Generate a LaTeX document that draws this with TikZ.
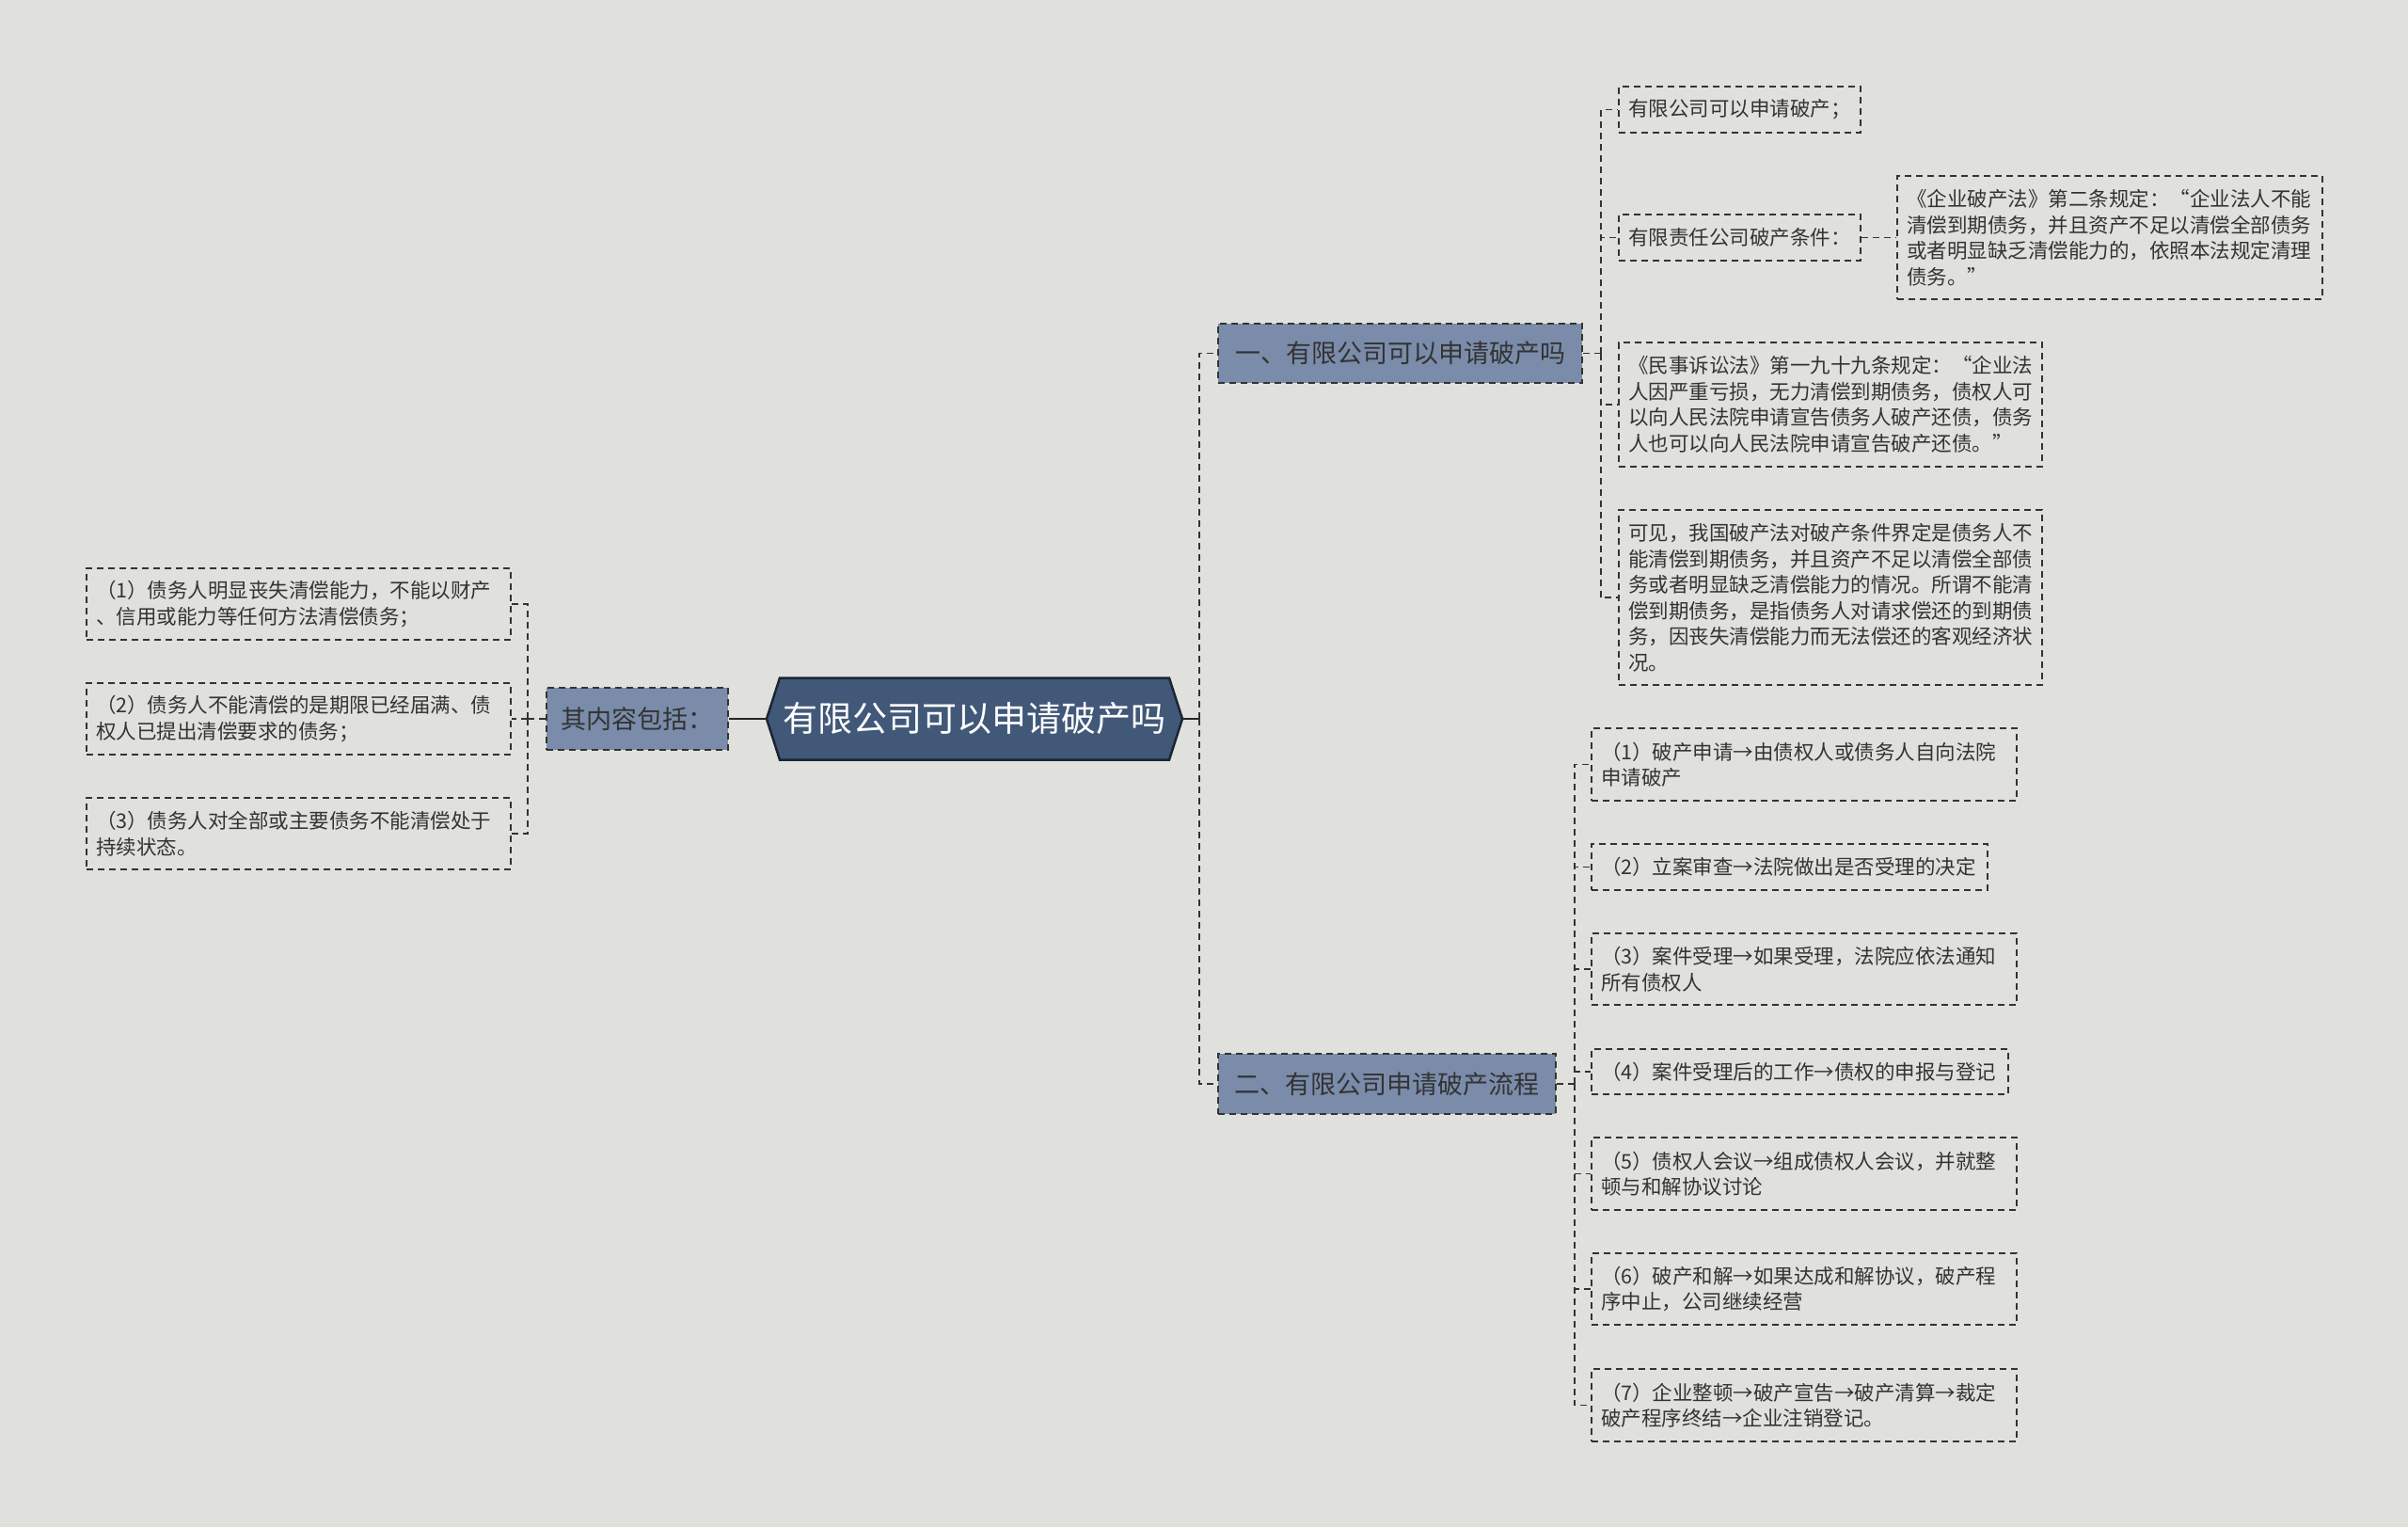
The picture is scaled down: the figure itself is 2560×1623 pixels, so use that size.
\documentclass[tikz,border=0pt]{standalone}
\usepackage{fontspec}
\newfontfamily\cjk{Noto Sans CJK SC}
\definecolor{bgc}{HTML}{E0E1DC}
\definecolor{branchfill}{HTML}{7A8CAA}
\definecolor{rootfill}{HTML}{415878}
\definecolor{rootline}{HTML}{1C2535}
\definecolor{inkc}{HTML}{333333}
\begin{document}
\begin{tikzpicture}[x=1pt,y=-1pt,
  dashline/.style={line width=1.8pt, dash pattern=on 7pt off 5pt},
  conn/.style={draw=inkc, dashline},
  solidline/.style={draw=black!85, line width=2pt},
  leaf/.style={draw=inkc, dashline, text=inkc, font=\cjk\fontsize{21.5pt}{27.5pt}\selectfont, align=left, inner xsep=10pt, inner ysep=0pt, anchor=center},
  branch/.style={draw=inkc, fill=branchfill, dashline, text=inkc, font=\cjk\fontsize{27pt}{32pt}\selectfont, inner sep=0pt, anchor=center},
  roottext/.style={text=white, font=\cjk\fontsize{37pt}{44pt}\selectfont, inner sep=0pt, anchor=center}
]
\useasboundingbox (0,0) rectangle (2560,1623);
\fill[bgc] (0,0) rectangle (2560,1623);

% root hexagon
\filldraw[fill=rootfill, draw=rootline, line width=2.5pt, line join=miter]
  (815,764) -- (829,720.5) -- (1243,720.5) -- (1257,764) -- (1243,807.5) -- (829,807.5) -- cycle;
\node[roottext, minimum width=442pt, minimum height=87pt] (root) at (1036,764) {有限公司可以申请破产吗};

% left side
\node[branch, minimum width=193pt, minimum height=66pt] (lbox) at (677.5,764) {其内容包括：};
\node[leaf, text width=431pt, minimum height=76pt] (L1) at (317.5,642) {（1）债务人明显丧失清偿能力，不能以财产\\、信用或能力等任何方法清偿债务；};
\node[leaf, text width=431pt, minimum height=76pt] (L2) at (317.5,764) {（2）债务人不能清偿的是期限已经届满、债\\权人已提出清偿要求的债务；};
\node[leaf, text width=431pt, minimum height=76pt] (L3) at (317.5,886) {（3）债务人对全部或主要债务不能清偿处于\\持续状态。};

\draw[solidline] (root.west) -- (lbox.east);
\draw[conn] (lbox.west) -- ++(-19,0) coordinate (lbus);
\draw[conn] (lbus) |- (L1.east);
\draw[conn] (lbus) |- (L2.east);
\draw[conn] (lbus) |- (L3.east);

% right branches
\node[branch, minimum width=387pt, minimum height=63pt] (b1) at (1488.5,375.5) {一、有限公司可以申请破产吗};
\node[branch, minimum width=359pt, minimum height=64pt] (b2) at (1474.5,1152) {二、有限公司申请破产流程};

\draw[solidline] (root.east) -- ++(18,0) coordinate (rbus);
\draw[conn] (rbus) |- (b1.west);
\draw[conn] (rbus) |- (b2.west);

% branch 1 leaves
\node[leaf, text width=237pt, minimum height=49pt] (A) at (1849.5,116.5) {有限公司可以申请破产；};
\node[leaf, text width=237pt, minimum height=49pt] (B) at (1849.5,252.5) {有限责任公司破产条件：};
\node[leaf, text width=432pt, minimum height=131pt] (C) at (2243,252.5) {《企业破产法》第二条规定：“企业法人不能\\清偿到期债务，并且资产不足以清偿全部债务\\或者明显缺乏清偿能力的，依照本法规定清理\\债务。”};
\node[leaf, text width=430pt, minimum height=132pt] (D) at (1946,430) {《民事诉讼法》第一九十九条规定：“企业法\\人因严重亏损，无力清偿到期债务，债权人可\\以向人民法院申请宣告债务人破产还债，债务\\人也可以向人民法院申请宣告破产还债。”};
\node[leaf, text width=430pt, minimum height=186pt] (E) at (1946,635) {可见，我国破产法对破产条件界定是债务人不\\能清偿到期债务，并且资产不足以清偿全部债\\务或者明显缺乏清偿能力的情况。所谓不能清\\偿到期债务，是指债务人对请求偿还的到期债\\务，因丧失清偿能力而无法偿还的客观经济状\\况。};

\draw[conn] (b1.east) -- ++(19,0) coordinate (bus1);
\draw[conn] (bus1) |- (A.west);
\draw[conn] (bus1) |- (B.west);
\draw[conn] (bus1) |- (D.west);
\draw[conn] (bus1) |- (E.west);
\draw[conn] (B.east) -- (C.west);

% branch 2 leaves
\node[leaf, text width=432pt, minimum height=77pt] (P1) at (1918,812.5) {（1）破产申请→由债权人或债务人自向法院\\申请破产};
\node[leaf, text width=401pt, minimum height=49pt] (P2) at (1902.5,921.5) {（2）立案审查→法院做出是否受理的决定};
\node[leaf, text width=432pt, minimum height=76pt] (P3) at (1918,1030) {（3）案件受理→如果受理，法院应依法通知\\所有债权人};
\node[leaf, text width=423pt, minimum height=48pt] (P4) at (1913.5,1139) {（4）案件受理后的工作→债权的申报与登记};
\node[leaf, text width=432pt, minimum height=77pt] (P5) at (1918,1247.5) {（5）债权人会议→组成债权人会议，并就整\\顿与和解协议讨论};
\node[leaf, text width=432pt, minimum height=76pt] (P6) at (1918,1370) {（6）破产和解→如果达成和解协议，破产程\\序中止，公司继续经营};
\node[leaf, text width=432pt, minimum height=77pt] (P7) at (1918,1493.5) {（7）企业整顿→破产宣告→破产清算→裁定\\破产程序终结→企业注销登记。};

\draw[conn] (b2.east) -- ++(19,0) coordinate (bus2);
\draw[conn] (bus2) |- (P1.west);
\draw[conn] (bus2) |- (P2.west);
\draw[conn] (bus2) |- (P3.west);
\draw[conn] (bus2) |- (P4.west);
\draw[conn] (bus2) |- (P5.west);
\draw[conn] (bus2) |- (P6.west);
\draw[conn] (bus2) |- (P7.west);
\end{tikzpicture}
\end{document}
